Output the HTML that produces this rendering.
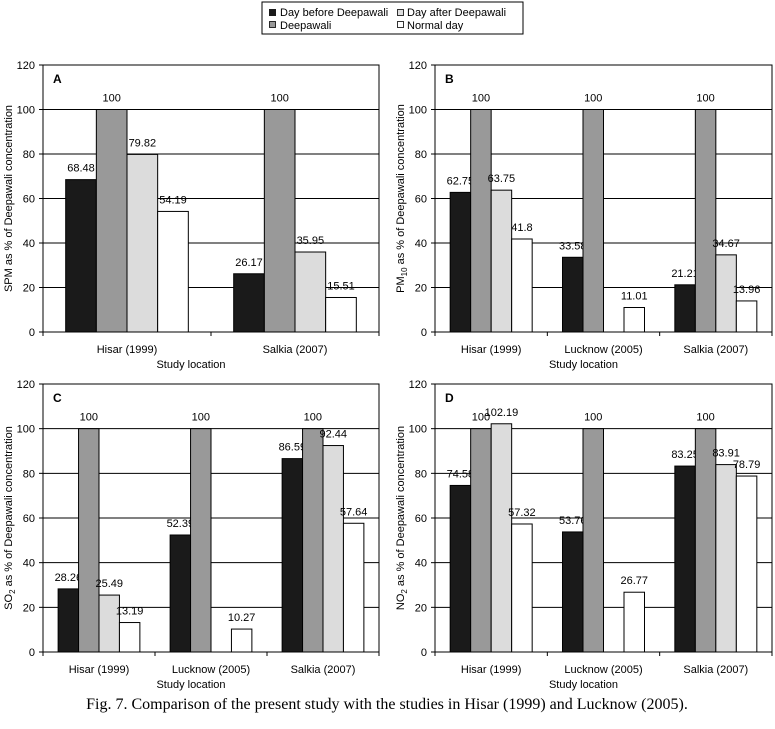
<!DOCTYPE html>
<html><head><meta charset="utf-8"><style>
body{margin:0;background:#fff;width:775px;height:724px;overflow:hidden;font-family:"Liberation Sans",sans-serif}
svg text{font-family:"Liberation Sans",sans-serif}
</style></head><body>
<svg id="c" width="775" height="724">
<g>
<rect x="262" y="2" width="261" height="32" fill="#fff" stroke="#000" stroke-width="1"/>
<rect x="269" y="9" width="7" height="7" fill="#1a1a1a"/>
<text x="280" y="16" font-size="11">Day before Deepawali</text>
<rect x="269.5" y="21.5" width="6" height="6" fill="#999" stroke="#000" stroke-width="0.8"/>
<text x="280" y="29" font-size="11">Deepawali</text>
<rect x="397.5" y="9.5" width="6" height="6" fill="#ddd" stroke="#000" stroke-width="0.8"/>
<text x="407" y="16" font-size="11">Day after Deepawali</text>
<rect x="397.5" y="21.5" width="6" height="6" fill="#fff" stroke="#000" stroke-width="0.8"/>
<text x="407" y="29" font-size="11">Normal day</text>
</g>
<text x="387" y="709" text-anchor="middle" font-size="16" style="font-family:'Liberation Serif',serif">Fig. 7. Comparison of the present study with the studies in Hisar (1999) and Lucknow (2005).</text>
</svg>
<script>
const yTicks=[0,20,40,60,80,100,120];
const seriesNames=["Day before Deepawali","Deepawali","Day after Deepawali","Normal day"];
const seriesColors=["#1a1a1a","#999999","#dcdcdc","#ffffff"];
const catsA=["Hisar (1999)","Salkia (2007)"];
const cats3=["Hisar (1999)","Lucknow (2005)","Salkia (2007)"];
const beforeA=[68.48,26.17], deepA=[100,100], afterA=[79.82,35.95], normalA=[54.19,15.51];
const beforeB=[62.75,33.58,21.21], deepB=[100,100,100], afterB=[63.75,null,34.67], normalB=[41.8,11.01,13.96];
const beforeC=[28.26,52.39,86.59], deepC=[100,100,100], afterC=[25.49,null,92.44], normalC=[13.19,10.27,57.64];
const beforeD=[74.58,53.76,83.25], deepD=[100,100,100], afterD=[102.19,null,83.91], normalD=[57.32,26.77,78.79];
const svg=document.getElementById('c');
const NS='http://www.w3.org/2000/svg';
function el(tag,attrs,parent){const e=document.createElementNS(NS,tag);for(const k in attrs)e.setAttribute(k,attrs[k]);parent.appendChild(e);return e;}
function panel(id,x0,x1,yTop,yBot,cats,series,letter,ylab,sub){
  const g=el('g',{},svg);
  
  
  const y=v=>yBot-(v/120)*(yBot-yTop);
  const bw=(x1-x0)/cats.length;
  const barW=bw*0.73/4;
  el('rect',{x:x0,y:yTop,width:x1-x0,height:yBot-yTop,fill:'#fff',stroke:'#000','stroke-width':1},g);
  yTicks.forEach(t=>{
    if(t>0&&t<120){const l=el('line',{x1:x0,x2:x1,y1:y(t),y2:y(t),stroke:'#000','stroke-width':1},g);
    }
    el('line',{x1:x0-4,x2:x0,y1:y(t),y2:y(t),stroke:'#000'},g);
    const tx=el('text',{x:x0-8,y:y(t)+4,'text-anchor':'end','font-size':11},g);
    tx.textContent=t;
    
    
  });
  for(let i=0;i<=cats.length;i++)el('line',{x1:x0+i*bw,x2:x0+i*bw,y1:yBot,y2:yBot+4,stroke:'#000'},g);
  cats.forEach((c,i)=>{
    const cx=x0+bw*(i+0.5);
    const start=cx-2*barW;
    series.forEach((s,j)=>{
      const v=s[i]; if(v==null)return;
      const bx=start+j*barW;
      const r=el('rect',{x:bx,y:y(v),width:barW,height:yBot-y(v),fill:seriesColors[j],stroke:'#000','stroke-width':1},g);
      
      
      const t=el('text',{x:bx+barW/2,y:y(v)-8,'text-anchor':'middle','font-size':11},g);
      t.textContent=v;
      
      
    });
    const ct=el('text',{x:cx,y:yBot+21,'text-anchor':'middle','font-size':11},g);
    ct.textContent=c;
    
    
  });
  const xt=el('text',{x:(x0+x1)/2-20,y:yBot+36,'text-anchor':'middle','font-size':11},g);
  xt.textContent='Study location';
  
  
  const lt=el('text',{x:x0+10,y:yTop+18,'font-size':12,'font-weight':'bold'},g);
  lt.textContent=letter;
  
  
  const ycx=x0-31, ycy=(yTop+yBot)/2;
  const yt=el('text',{x:ycx,y:ycy,'text-anchor':'middle','font-size':11,transform:`rotate(-90 ${ycx} ${ycy})`},g);
  
  
  if(sub){yt.appendChild(document.createTextNode(ylab));const ts=el('tspan',{'font-size':8,dy:3},yt);ts.textContent=sub;const ts2=el('tspan',{dy:-3},yt);ts2.textContent=' as % of Deepawali concentration';}
  else yt.textContent=ylab+' as % of Deepawali concentration';
}
panel('a',43,379,65,332,catsA,[beforeA,deepA,afterA,normalA],'A','SPM',null);
panel('b',435,772,65,332,cats3,[beforeB,deepB,afterB,normalB],'B','PM','10');
panel('c',43,379,384,652,cats3,[beforeC,deepC,afterC,normalC],'C','SO','2');
panel('d',435,772,384,652,cats3,[beforeD,deepD,afterD,normalD],'D','NO','2');
</script>
</body></html>
